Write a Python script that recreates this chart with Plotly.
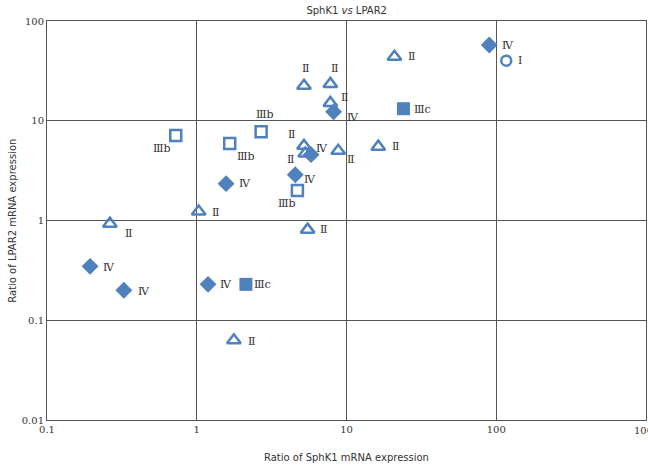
import math
import plotly.graph_objects as go

# ---- data ----
stage2_x = [0.263, 1.03, 5.2, 7.8, 7.8, 20.9, 5.2, 5.3, 8.8, 16.3, 5.5, 1.77]
stage2_y = [0.93, 1.23, 22.4, 23.4, 15.1, 43.7, 5.6, 4.7, 5.0, 5.5, 0.81, 0.063]
stage2_lbl = ["Ⅱ"] * 12

stage1_x = [116.6]
stage1_y = [40.0]
stage1_lbl = ["Ⅰ"]

stage4_x = [89.8, 8.2, 5.8, 4.55, 1.57, 0.194, 0.326, 1.19]
stage4_y = [57.5, 12.3, 4.57, 2.88, 2.34, 0.347, 0.20, 0.229]
stage4_lbl = ["Ⅳ"] * 8

stage3b_x = [0.724, 1.66, 2.69, 4.7]
stage3b_y = [7.1, 5.9, 7.76, 2.0]
stage3b_lbl = ["Ⅲb"] * 4

stage3c_x = [24.0, 2.13]
stage3c_y = [13.2, 0.229]
stage3c_lbl = ["Ⅲc"] * 2

tick_vals_x = [0.1, 1, 10, 100, 1000]
tick_text_x = ["0.1", "1", "10", "100", "1000"]
tick_vals_y = [0.01, 0.1, 1, 10, 100]
tick_text_y = ["0.01", "0.1", "1", "10", "100"]

# ---- label offsets in pixels (dx right, dy down) ----
off2 = [(19, 10), (17, 1), (2, -17), (4, -15), (14, -5), (17, 0), (-12, -11),
        (-15, 6), (12, 9), (17, 0), (16, 0), (18, 1)]
off1 = [(14, 0)]
off4 = [(19, 1), (19, 6), (11, -6), (15, 5), (19, 0), (19, 1), (20, 1), (18, 0)]
off3b = [(-14, 13), (16, 13), (4, -17), (-10, 13)]
off3c = [(19, 1), (17, 0)]

BLUE = "#4F81BD"
TXT = "#333333"
TICKFONT = dict(family="DejaVu Serif", size=10, color=TXT)
fig = go.Figure()

def add(xs, ys, symbol, filled, size):
    fig.add_trace(go.Scatter(
        x=xs, y=ys, mode="markers",
        marker=dict(symbol=symbol, size=size,
                    color=BLUE if filled else "rgba(255,255,255,0)",
                    line=dict(color=BLUE, width=0 if filled else 2.5)),
        showlegend=False, hoverinfo="skip"))

add(stage2_x, stage2_y, "triangle-up", False, 12)
add(stage1_x, stage1_y, "circle", False, 10)
add(stage4_x, stage4_y, "diamond", True, 13)
add(stage3b_x, stage3b_y, "square", False, 11)
add(stage3c_x, stage3c_y, "square", True, 13)

ann = []
for xs, ys, lbls, offs in [(stage2_x, stage2_y, stage2_lbl, off2),
                           (stage1_x, stage1_y, stage1_lbl, off1),
                           (stage4_x, stage4_y, stage4_lbl, off4),
                           (stage3b_x, stage3b_y, stage3b_lbl, off3b),
                           (stage3c_x, stage3c_y, stage3c_lbl, off3c)]:
    for x, y, t, (dx, dy) in zip(xs, ys, lbls, offs):
        ann.append(dict(x=math.log10(x), y=math.log10(y), xref="x", yref="y",
                        text=t, showarrow=False, xshift=dx, yshift=-dy,
                        font=dict(family="DejaVu Serif", size=11, color=TXT)))

# last x tick label (partly beyond the right edge, as in the reference)
ann.append(dict(text=tick_text_x[-1], x=math.log10(tick_vals_x[-1]), xref="x",
                y=0, yref="paper", yanchor="top", yshift=-3, xanchor="center",
                showarrow=False, font=TICKFONT))

ann.append(dict(text="Ratio of SphK1 mRNA expression", xref="paper", yref="paper",
                x=0.5, y=-0.095, xanchor="center", yanchor="middle", showarrow=False,
                font=dict(family="DejaVu Sans", size=10, color=TXT)))
ann.append(dict(text="Ratio of LPAR2 mRNA expression", xref="paper", yref="paper",
                x=-0.058, y=0.5, xanchor="center", yanchor="middle", showarrow=False,
                textangle=-90, font=dict(family="DejaVu Sans", size=10, color=TXT)))

fig.update_layout(
    width=648, height=468,
    margin=dict(l=47, r=2, t=21, b=48),
    paper_bgcolor="white", plot_bgcolor="white",
    title=dict(text="SphK1 <i>vs</i> LPAR2", x=0.535, xanchor="center", y=0.978, yanchor="middle",
               font=dict(family="DejaVu Sans", size=10, color=TXT)),
    annotations=ann,
    xaxis=dict(type="log", range=[-1, 3], tickvals=tick_vals_x[:-1], ticktext=tick_text_x[:-1],
               showgrid=True, gridcolor="#555555", gridwidth=1, automargin=False,
               showline=True, linecolor="#555555", linewidth=1, mirror=True,
               zeroline=False, ticks="", ticklen=0, tickfont=TICKFONT),
    yaxis=dict(type="log", range=[-2, 2], tickvals=tick_vals_y, ticktext=tick_text_y,
               showgrid=True, gridcolor="#555555", gridwidth=1, automargin=False,
               showline=True, linecolor="#555555", linewidth=1, mirror=True,
               zeroline=False, ticks="", ticklen=0, tickfont=TICKFONT),
)

fig.write_html("out.html", config={"displayModeBar": False},
               post_script="document.body.style.margin='0';document.body.style.overflow='hidden';")
